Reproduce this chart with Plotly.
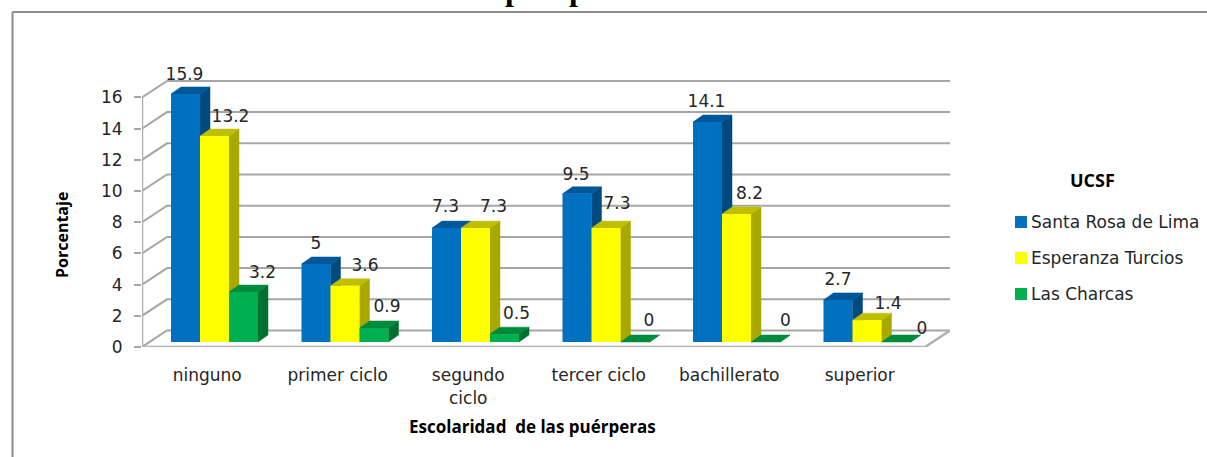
import plotly.graph_objects as go

categories = ["ninguno", "primer ciclo", "segundo<br>ciclo", "tercer ciclo", "bachillerato", "superior"]
santa_rosa = [15.9, 5, 7.3, 9.5, 14.1, 2.7]
esperanza = [13.2, 3.6, 7.3, 7.3, 8.2, 1.4]
charcas = [3.2, 0.9, 0.5, 0, 0, 0]
y_ticks = [0, 2, 4, 6, 8, 10, 12, 14, 16]
series_names = ["Santa Rosa de Lima", "Esperanza Turcios", "Las Charcas"]
series_values = [santa_rosa, esperanza, charcas]

# styles
FRONT = ["#0070C0", "#FFFF00", "#00B050"]
SIDE = ["#004A80", "#A8A800", "#00702F"]
TOP = ["#00589A", "#BFBF00", "#008A3C"]
GRID = "#A6A6A6"
TEXT = "#262626"
FONT = "DejaVu Sans"
BOLD = "Open Sans"

# pixel geometry
W, H = 1207, 457
L, R, T, Y0 = 142, 950, 50, 347
UX, UY = 130.5, 15.6           # pixels per category / per percent
WALL_DX, WALL_DY = 25, 16.5
BAR_W, BAR_DX, BAR_DY = 29, 10, 7
BAR_LEFT0, BAR_BASE = 171, 342


def xpx(d):
    return d / UX


def ypx(d):
    return d / UY


x_range = [-0.5, -0.5 + (R - L) / UX]
y_range = [0, (Y0 - T) / UY]


def paper_x(px):
    return (px - L) / (R - L)


def paper_y(py):
    return (Y0 - py) / (Y0 - T)


bar_base = ypx(Y0 - BAR_BASE)
bar_start = xpx(BAR_LEFT0 - (L + UX / 2))  # left edge of group, relative to category index

fig = go.Figure()

# wall, floor and gridlines
gx, gy = [], []
for t in y_ticks:
    gx += [-0.5, -0.5 + xpx(WALL_DX), x_range[1], None]
    gy += [t, t + ypx(WALL_DY), t + ypx(WALL_DY), None]
fig.add_trace(go.Scatter(x=gx, y=gy, mode="lines", line=dict(color=GRID, width=2),
                         hoverinfo="skip", showlegend=False))
fig.add_trace(go.Scatter(x=[-0.5, -0.5, None, -0.5, 5.5, x_range[1]],
                         y=[y_ticks[-1], 0, None, 0, 0, ypx(WALL_DY)],
                         mode="lines", line=dict(color="#B0B0B0", width=2.5),
                         hoverinfo="skip", showlegend=False))

# side and top faces of the bars, back to front
for s, vals in enumerate(series_values):
    sx, sy, tx, ty = [], [], [], []
    for i, v in enumerate(vals):
        x0 = i + bar_start + xpx(BAR_W) * s
        x1 = x0 + xpx(BAR_W)
        y1 = bar_base + v
        sx += [x1, x1 + xpx(BAR_DX), x1 + xpx(BAR_DX), x1, x1, None]
        sy += [bar_base, bar_base + ypx(BAR_DY), y1 + ypx(BAR_DY), y1, bar_base, None]
        tx += [x0, x1, x1 + xpx(BAR_DX), x0 + xpx(BAR_DX), x0, None]
        ty += [y1, y1, y1 + ypx(BAR_DY), y1 + ypx(BAR_DY), y1, None]
    for px_, py_, col in ((sx, sy, SIDE[s]), (tx, ty, TOP[s])):
        fig.add_trace(go.Scatter(x=px_, y=py_, mode="lines", fill="toself", fillcolor=col,
                                 line=dict(color=col, width=0.5),
                                 hoverinfo="skip", showlegend=False))

# front faces
for s, vals in enumerate(series_values):
    fig.add_trace(go.Bar(
        x=[i + bar_start + xpx(BAR_W) * (s + 0.5) for i in range(len(vals))],
        y=vals, base=bar_base, width=xpx(BAR_W), name=series_names[s],
        marker=dict(color=FRONT[s], line=dict(width=0)),
        xaxis="x2", yaxis="y2", showlegend=False))

# data labels: horizontal nudge and height above the bar, in pixels
label_dx = [[-1, 16, 19], [0, 20, 13], [-1, 18, 12], [-1, 11, 14], [-1, 13, 20], [0, 21, 26]]
label_dy = [[18, 18, 18], [19, 19, 20], [20, 20, 19], [18, 23, 20], [19, 19, 20], [19, 15, 12]]
for s, vals in enumerate(series_values):
    fig.add_trace(go.Scatter(
        x=[i + bar_start + xpx(BAR_W) * (s + 0.5) + xpx(label_dx[i][s]) for i in range(len(vals))],
        y=[bar_base + v + ypx(label_dy[i][s]) for i, v in enumerate(vals)],
        text=[str(v) for v in vals], mode="text", cliponaxis=False,
        textposition="middle center", textfont=dict(family=FONT, size=17, color=TEXT),
        xaxis="x2", yaxis="y2", hoverinfo="skip", showlegend=False))

shapes = [
    dict(type="line", xref="paper", yref="paper", x0=paper_x(12.5), x1=paper_x(W), y0=paper_y(12), y1=paper_y(12),
         line=dict(color="#8C8C8C", width=2)),
    dict(type="line", xref="paper", yref="paper", x0=paper_x(12.5), x1=paper_x(12.5), y0=paper_y(12), y1=paper_y(H),
         line=dict(color="#8C8C8C", width=2)),
]
annotations = [
    dict(text="<b>puérperas</b>", xref="paper", yref="paper", x=paper_x(502.5), y=paper_y(9), xanchor="left", yanchor="bottom",
         showarrow=False, font=dict(family="Liberation Serif", size=32, color="#000000")),
    dict(text="<b>Porcentaje</b>", xref="paper", yref="paper", x=paper_x(62), y=paper_y(235), textangle=-90,
         xanchor="center", yanchor="middle",
         showarrow=False, font=dict(family=BOLD, size=16, color="#000000")),
    dict(text="<b>Escolaridad  de las puérperas</b>", xref="paper", yref="paper", x=paper_x(532), y=paper_y(426),
         xanchor="center", yanchor="middle",
         showarrow=False, font=dict(family=BOLD, size=17, color="#000000")),
    dict(text="<b>UCSF</b>", xref="paper", yref="paper", x=paper_x(1092), y=paper_y(180),
         xanchor="center", yanchor="middle",
         showarrow=False, font=dict(family=BOLD, size=18, color="#000000")),
]
# legend
for s, name in enumerate(series_names):
    yc = 222 + 36 * s
    shapes.append(dict(type="rect", xref="paper", yref="paper", x0=paper_x(1015), x1=paper_x(1027),
                       y0=paper_y(yc - 6), y1=paper_y(yc + 6), fillcolor=FRONT[s], line=dict(width=0)))
    annotations.append(dict(text=name, xref="paper", yref="paper", x=paper_x(1029), y=paper_y(yc),
                            xanchor="left", yanchor="middle", showarrow=False,
                            font=dict(family=FONT, size=17, color=TEXT)))

fig.update_layout(
    width=W, height=H, autosize=False, showlegend=False,
    margin=dict(l=L, r=W - R, t=T, b=H - Y0, pad=0),
    paper_bgcolor="white", plot_bgcolor="white",
    barmode="overlay", shapes=shapes, annotations=annotations,
    xaxis=dict(range=x_range, tickmode="array", tickvals=list(range(len(categories))), ticktext=categories,
               showgrid=False, zeroline=False, showline=False, ticks="outside", ticklen=13, tickcolor="white",
               tickfont=dict(family=FONT, size=17, color=TEXT), fixedrange=True),
    yaxis=dict(range=y_range, tickmode="array", tickvals=y_ticks, ticktext=[str(t) for t in y_ticks],
               showgrid=False, zeroline=False, showline=False, ticks="outside", ticklen=7, tickcolor=GRID, tickwidth=2,
               ticklabelstandoff=8, tickfont=dict(family=FONT, size=17, color=TEXT), fixedrange=True),
    xaxis2=dict(range=x_range, overlaying="x", visible=False, fixedrange=True),
    yaxis2=dict(range=y_range, overlaying="y", visible=False, fixedrange=True),
)

fig.write_html("out.html", config=dict(displayModeBar=False),
               post_script="document.body.style.margin='0';document.body.style.overflow='hidden';")
